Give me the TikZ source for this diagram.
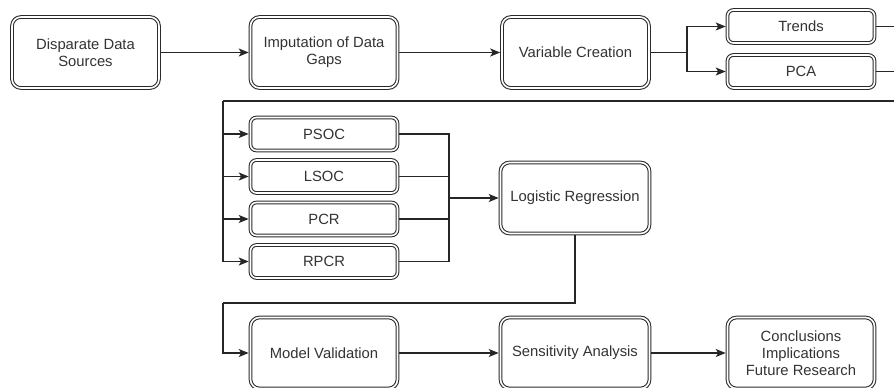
\documentclass[tikz,border=0pt]{standalone}
\usepackage{fontspec}
\setmainfont{Liberation Sans}
\usetikzlibrary{arrows.meta}
\definecolor{boxline}{HTML}{2B2B2B}
\definecolor{txt}{HTML}{333333}
\tikzset{
  bigbox/.style={draw=boxline, double=white, double distance=1.6pt, line width=1.05pt,
    rounded corners=9pt, minimum width=147pt, minimum height=71pt, inner sep=0pt,
    outer sep=1.8pt, align=center, text=txt,
    font=\fontsize{14.8pt}{17pt}\selectfont},
  smallbox/.style={bigbox, rounded corners=6pt, minimum height=33pt},
  conn/.style={draw=black!85, line width=1.25pt},
  arr/.style={conn, -{Stealth[length=10pt,width=8pt,inset=2.5pt]}},
}
\begin{document}
\begin{tikzpicture}[x=1pt,y=-1pt]
\useasboundingbox (0,0) rectangle (894,388);
\fill[white] (0,0) rectangle (894,388);
\clip (0,0) rectangle (894,388);
% top row
\node[bigbox] (ds) at (85.5,52.5) {Disparate Data\\Sources};
\node[bigbox] (imp) at (324,52.5) {Imputation of Data\\Gaps};
\node[bigbox] (var) at (575.5,52.5) {Variable Creation};
\node[smallbox] (tr) at (801,26.5) {Trends};
\node[smallbox] (pca) at (801,71.5) {PCA};
% middle
\node[smallbox] (psoc) at (324,134) {PSOC};
\node[smallbox] (lsoc) at (324,176.5) {LSOC};
\node[smallbox] (pcr) at (324,219) {PCR};
\node[smallbox] (rpcr) at (324,261.5) {RPCR};
\node[bigbox, minimum width=149pt] (lr) at (575,198) {Logistic Regression};
% bottom
\node[bigbox] (mv) at (324,353) {Model Validation};
\node[bigbox, minimum width=149pt] (sa) at (575,353) {Sensitivity Analysis};
\node[bigbox] (cc) at (801,353) {Conclusions\\Implications\\Future Research};
% helper coordinates
\coordinate (split1) at (687,52.5);
\coordinate (offr1) at (910,26.5);
\coordinate (offr2) at (910,71.5);
\coordinate (offr3) at (910,101);
\coordinate (left1) at (223,101);
\coordinate (bus) at (449,198);
\coordinate (left2) at (223,303);
% connectors
\draw[arr] (ds) -- (imp);
\draw[arr] (imp) -- (var);
\draw[conn] (var.east) -- (split1);
\draw[arr] (split1) |- (tr.west);
\draw[arr] (split1) |- (pca.west);
\draw[conn] (tr.east) -- (offr1);
\draw[conn] (pca.east) -- (offr2);
\draw[conn] (offr3) -- (left1);
\draw[arr] (left1) |- (psoc.west);
\draw[arr] (left1) |- (lsoc.west);
\draw[arr] (left1) |- (pcr.west);
\draw[arr] (left1) |- (rpcr.west);
\draw[conn] (psoc.east) -| (bus);
\draw[conn] (lsoc.east) -| (bus);
\draw[conn] (pcr.east) -| (bus);
\draw[conn] (rpcr.east) -| (bus);
\draw[arr] (bus) -- (lr.west);
\draw[conn] (lr.south) |- (left2);
\draw[arr] (left2) |- (mv.west);
\draw[arr] (mv) -- (sa);
\draw[arr] (sa) -- (cc);
\end{tikzpicture}
\end{document}
